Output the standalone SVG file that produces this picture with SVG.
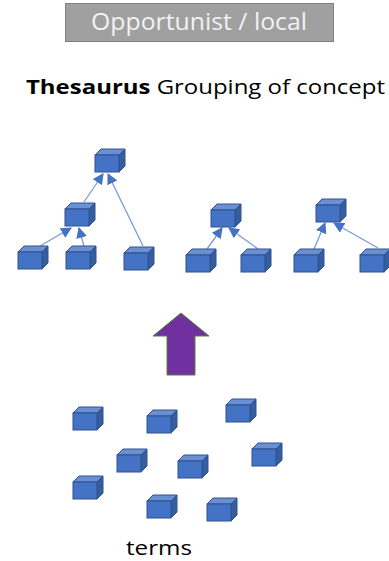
<svg xmlns="http://www.w3.org/2000/svg" xmlns:xlink="http://www.w3.org/1999/xlink" width="389" height="561" viewBox="0 0 389 561">
<style>
.front{fill:#4472C4;stroke:#2F528F;stroke-width:1}
.top{fill:#6A8FD3;stroke:#2F528F;stroke-width:1}
.side{fill:#365E9F;stroke:#2F528F;stroke-width:1}
.conn{stroke:#7A9BD8;stroke-width:1.3;fill:none}
.txt{font-family:"Open Sans","Noto Sans",sans-serif}
</style>
<defs>
<g id="cube">
<polygon class="top" points="0,0 6,-6 30,-6 24,0"/>
<polygon class="side" points="24,0 30,-6 30,11 24,17"/>
<rect class="front" x="0" y="0" width="24" height="17"/>
</g>
<marker id="arr" markerUnits="userSpaceOnUse" markerWidth="11" markerHeight="11" viewBox="0 0 10 10" refX="9" refY="5" orient="auto">
<path d="M0,0 L10,5 L0,10 Z" fill="#4472C4"/>
</marker>
</defs>
<rect width="389" height="561" fill="#ffffff"/>
<g id="title">
<rect x="65.5" y="3.5" width="268" height="38" fill="#A0A0A0" stroke="#7F7F7F" stroke-width="1"/>
<text class="txt" x="199" y="30" text-anchor="middle" font-size="23" fill="#F2F2F2" textLength="216" lengthAdjust="spacingAndGlyphs">Opportunist / local</text>
</g>
<g id="heading">
<text class="txt" x="26" y="94" font-size="19.5" fill="#000000" textLength="359" lengthAdjust="spacingAndGlyphs"><tspan font-weight="bold">Thesaurus</tspan> Grouping of concept</text>
</g>
<g id="connectors">
<line class="conn" x1="40" y1="246" x2="71" y2="228" marker-end="url(#arr)"/>
<line class="conn" x1="84" y1="246" x2="79" y2="228" marker-end="url(#arr)"/>
<line class="conn" x1="143" y1="246" x2="108" y2="174" marker-end="url(#arr)"/>
<line class="conn" x1="84" y1="202" x2="103" y2="174" marker-end="url(#arr)"/>
<line class="conn" x1="207" y1="249" x2="222" y2="228" marker-end="url(#arr)"/>
<line class="conn" x1="258" y1="249" x2="229" y2="228" marker-end="url(#arr)"/>
<line class="conn" x1="314" y1="249" x2="325" y2="223" marker-end="url(#arr)"/>
<line class="conn" x1="378" y1="248" x2="334" y2="223" marker-end="url(#arr)"/>
</g>
<g id="t1-root"><use xlink:href="#cube" x="95" y="155"/></g>
<g id="t1-mid"><use xlink:href="#cube" x="65" y="209"/></g>
<g id="t1-leaf1"><use xlink:href="#cube" x="18" y="252"/></g>
<g id="t1-leaf2"><use xlink:href="#cube" x="66" y="252"/></g>
<g id="t1-leaf3"><use xlink:href="#cube" x="124" y="253"/></g>
<g id="t2-root"><use xlink:href="#cube" x="211" y="210"/></g>
<g id="t2-leaf1"><use xlink:href="#cube" x="186" y="255"/></g>
<g id="t2-leaf2"><use xlink:href="#cube" x="241" y="255"/></g>
<g id="t3-root"><use xlink:href="#cube" x="316" y="205"/></g>
<g id="t3-leaf1"><use xlink:href="#cube" x="294" y="255"/></g>
<g id="t3-leaf2"><use xlink:href="#cube" x="360" y="255"/></g>
<g id="up-arrow">
<polygon points="181,313 209,336 195,336 195,375 167,375 167,336 153,336" fill="#7030A0" stroke="#548235" stroke-width="1"/>
</g>
<g id="term1"><use xlink:href="#cube" x="73" y="413"/></g>
<g id="term2"><use xlink:href="#cube" x="147" y="416"/></g>
<g id="term3"><use xlink:href="#cube" x="226" y="405"/></g>
<g id="term4"><use xlink:href="#cube" x="117" y="455"/></g>
<g id="term5"><use xlink:href="#cube" x="178" y="461"/></g>
<g id="term6"><use xlink:href="#cube" x="252" y="449"/></g>
<g id="term7"><use xlink:href="#cube" x="73" y="482"/></g>
<g id="term8"><use xlink:href="#cube" x="147" y="501"/></g>
<g id="term9"><use xlink:href="#cube" x="207" y="504"/></g>
<g id="terms-label">
<text class="txt" x="126" y="555" font-size="20" fill="#000000" textLength="66" lengthAdjust="spacingAndGlyphs">terms</text>
</g>
</svg>
